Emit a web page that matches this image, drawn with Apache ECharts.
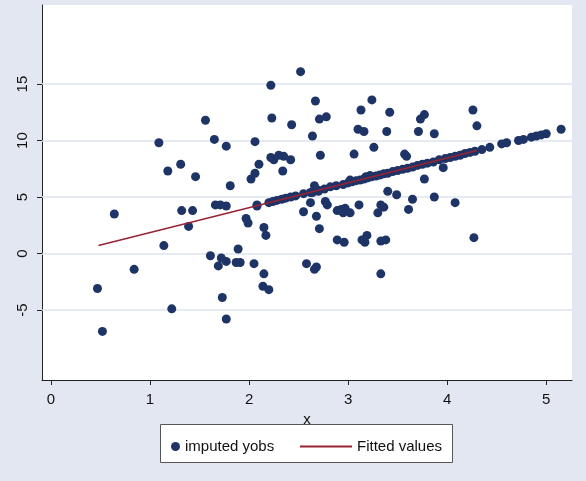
<!DOCTYPE html>
<html><head><meta charset="utf-8">
<script src="https://cdn.jsdelivr.net/npm/echarts@6/dist/echarts.min.js"></script>
<style>html,body{margin:0;background:#e2e7f1}#c{width:586px;height:481px}</style>
</head><body><div id="c"></div>
<script>
// scattered observed points (x, y)
var observedPts = [
  [0.47,-3.1],[0.52,-6.9],[0.64,3.5],[0.84,-1.4],[1.09,9.8],[1.14,0.7],[1.18,7.3],[1.22,-4.9],
  [1.31,7.9],[1.32,3.8],[1.39,2.4],[1.43,3.8],[1.46,6.8],[1.56,11.8],[1.61,-0.2],[1.65,10.1],
  [1.66,4.3],[1.71,4.3],[1.69,-1.1],[1.72,-0.4],[1.73,-3.9],[1.77,9.5],[1.77,-5.8],[1.77,-0.7],
  [1.77,4.2],[1.81,6.0],[1.87,-0.8],[1.89,0.4],[1.91,-0.8],[1.97,3.1],[1.99,2.7],[2.02,6.6],
  [2.06,9.9],[2.06,7.1],[2.05,-0.9],[2.08,4.3],[2.10,7.9],[2.14,-2.9],[2.15,-1.8],[2.15,2.3],
  [2.17,1.6],[2.20,-3.2],[2.22,14.9],[2.23,12.0],[2.22,8.5],[2.25,8.3],[2.30,8.7],[2.35,8.6],
  [2.42,8.3],[2.34,7.3],[2.43,11.4],[2.52,16.1],[2.55,3.7],[2.58,-0.9],[2.64,10.4],[2.67,13.5],
  [2.66,-1.4],[2.68,-1.2],[2.68,3.3],[2.71,11.9],[2.78,12.1],[2.70,5.5],[2.72,8.7],[2.66,6.0],
  [2.64,5.4],[2.62,4.5],[2.71,2.2],[2.77,4.6],[2.79,4.3],[2.89,1.2],[2.96,1.0],[2.89,3.8],
  [2.93,3.9],[2.97,4.0],[2.95,3.6],[3.02,3.6],[3.02,6.5],[3.06,8.8],[3.10,11.0],[3.13,12.7],
  [3.14,1.2],[3.16,10.8],[3.11,4.3],[3.22,6.9],[3.26,9.4],[3.24,13.6],[3.17,1.0],[3.18,6.8],
  [3.19,1.6],[3.33,1.1],[3.30,3.6],[3.39,10.8],[3.33,4.3],[3.36,4.1],[3.38,1.2],[3.33,-1.8],
  [3.40,5.5],[3.42,12.5],[3.49,5.2],[3.57,8.8],[3.59,8.6],[3.61,3.9],[3.65,4.8],[3.71,10.8],
  [3.73,11.9],[3.77,12.3],[3.77,6.6],[3.87,10.6],[3.87,5.0],[3.96,7.6],[4.08,4.5],[4.26,12.7],
  [4.30,11.3],[4.27,1.4]
];
// imputed points lying on the fitted line
var imputedPts = [
  [2.08,4.2],[2.20,4.5],[2.24,4.6],[2.28,4.7],[2.33,4.8],[2.37,4.9],[2.42,5.0],[2.47,5.1],
  [2.55,5.3],[2.62,5.4],[2.70,5.6],[2.76,5.7],[2.82,5.9],[2.88,6.0],[2.95,6.1],[3.00,6.25],
  [3.04,6.35],[3.08,6.45],[3.12,6.5],[3.16,6.6],[3.20,6.7],[3.24,6.8],[3.28,6.85],[3.32,6.95],
  [3.36,7.05],[3.40,7.1],[3.45,7.25],[3.50,7.35],[3.55,7.45],[3.60,7.55],[3.65,7.65],[3.70,7.8],
  [3.75,7.9],[3.80,8.0],[3.86,8.1],[3.92,8.3],[3.98,8.4],[4.03,8.5],[4.08,8.6],[4.13,8.7],
  [4.18,8.85],[4.23,8.95],[4.28,9.05],[4.35,9.2],[4.43,9.4],[4.55,9.7],[4.60,9.8],[4.72,10.0],
  [4.77,10.1],[4.85,10.3],[4.90,10.4],[4.95,10.5],[5.00,10.6],[5.15,11.0]
];
var fitX = [0.48, 4.30];
var fitY = [0.71, 9.11];
var xTicks = [0, 1, 2, 3, 4, 5];
var yTicks = [-5, 0, 5, 10, 15];

var font = '"Liberation Sans Narrow", "Liberation Sans", sans-serif';
var legendText = {fontSize: 15, color: '#111', fontFamily: font};
var chart = echarts.init(document.getElementById('c'));
chart.setOption({
  backgroundColor: '#e2e7f1',
  animation: false,
  textStyle: {fontFamily: font},
  grid: {left: 42, right: 14, top: 5, bottom: 101, show: true, backgroundColor: '#fff', borderWidth: 0},
  graphic: [{type: 'rect', left: 160, top: 424, z: 0,
    shape: {width: 292, height: 38}, style: {fill: '#fff', stroke: '#555', lineWidth: 1}}],
  legend: [
    {left: 166, top: 434, itemWidth: 9, itemHeight: 9, itemGap: 6, textStyle: legendText, z: 5,
     data: [{name: 'imputed yobs', icon: 'circle', itemStyle: {color: '#1f3466'}}]},
    {left: 295, top: 434, itemWidth: 52, itemHeight: 2, textStyle: legendText, z: 5,
     data: [{name: 'Fitted values', icon: 'rect', itemStyle: {color: '#992233'}}]}
  ],
  xAxis: {
    type: 'value', min: -0.09, max: 5.26,
    name: 'x', nameLocation: 'middle', nameGap: 32,
    nameTextStyle: {fontSize: 15, color: '#111'},
    axisLine: {show: true, onZero: false, lineStyle: {color: '#222'}},
    axisTick: {show: true, length: 5, lineStyle: {color: '#222'}, customValues: xTicks},
    axisLabel: {fontSize: 15, color: '#111', margin: 12, customValues: xTicks},
    splitLine: {show: false}
  },
  yAxis: {
    type: 'value', min: -11.2, max: 22,
    axisLine: {show: true, onZero: false, lineStyle: {color: '#222'}},
    axisTick: {show: true, length: 5, lineStyle: {color: '#222'}, customValues: yTicks},
    axisLabel: {fontSize: 15, color: '#111', rotate: 90, margin: 12, customValues: yTicks},
    splitLine: {show: false}
  },
  series: [
    {name: 'imputed yobs', type: 'scatter', symbolSize: 9, itemStyle: {color: '#1f3466', opacity: 1},
     data: observedPts.concat(imputedPts), z: 3,
     markLine: {silent: true, symbol: 'none', label: {show: false},
       lineStyle: {color: '#dde3ef', width: 1.5, type: 'solid'},
       data: yTicks.map(function(v){ return {yAxis: v}; }), z: 1}},
    {name: 'Fitted values', type: 'line', symbol: 'none', z: 4,
     lineStyle: {color: '#992233', width: 1.5}, itemStyle: {color: '#992233'},
     data: fitX.map(function(x, i){ return [x, fitY[i]]; })}
  ]
});
</script></body></html>
